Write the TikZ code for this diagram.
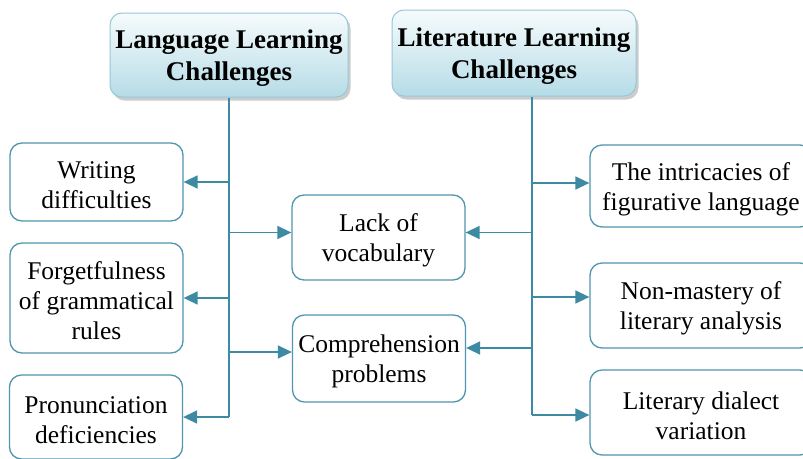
\documentclass[tikz,border=0pt]{standalone}
\usepackage{fontspec}
\setmainfont{Liberation Serif}
\usetikzlibrary{arrows.meta,shadows}
\definecolor{bord}{RGB}{80,150,175}
\definecolor{conn}{RGB}{62,138,162}
\definecolor{htop}{RGB}{246,251,252}
\definecolor{hbot}{RGB}{182,220,231}
\definecolor{hbord}{RGB}{150,200,215}
\newcommand\lifter{\rule{0pt}{24pt}}
\tikzset{
 item/.style={draw=bord, line width=1.3pt, rounded corners=12pt, fill=white, align=center,
   font=\fontsize{25.5}{30}\selectfont, text=black, inner sep=0pt, minimum width=173pt},
 hdr/.style={draw=hbord, line width=1pt, rounded corners=12pt, top color=htop, bottom color=hbot,
   align=center, font=\fontsize{27}{32}\selectfont\bfseries, inner sep=0pt,
   drop shadow={shadow xshift=2.5pt, shadow yshift=-3.5pt, opacity=0.4, fill=gray}},
 conline/.style={draw=conn, line width=1.5pt},
 arr/.style={conline, -{Triangle[length=14pt,width=13pt]}},
}
\begin{document}
\begin{tikzpicture}[x=1pt,y=-1pt]
\clip (0,0) rectangle (803,458);
\fill[white] (0,0) rectangle (803,458);
\node[hdr, minimum width=238pt, minimum height=84pt] (hl) at (229,55) {\lifter Language Learning\\Challenges};
\node[hdr, minimum width=244pt, minimum height=86pt] (hr) at (514,53) {\lifter Literature Learning\\Challenges};
\node[item, minimum height=78pt] (wri) at (96.5,182) {\lifter Writing\\difficulties};
\node[item, minimum height=110pt] (forg) at (96.5,298) {\lifter Forgetfulness\\of grammatical\\rules};
\node[item, minimum height=84pt] (pron) at (96,417) {\lifter Pronunciation\\deficiencies};
\node[item, minimum height=85pt] (lack) at (378.5,237.5) {\lifter Lack of\\vocabulary};
\node[item, minimum height=87pt] (comp) at (379,358.5) {\lifter Comprehension\\problems};
\node[item, minimum width=222pt, minimum height=82pt] (intr) at (701,186) {\lifter The intricacies of\\figurative language};
\node[item, minimum width=222pt, minimum height=85pt] (nonm) at (701,305.5) {\lifter Non-mastery of\\literary analysis};
\node[item, minimum width=222pt, minimum height=85pt] (dial) at (701,412.5) {\lifter Literary dialect\\variation};
% left trunk
\coordinate (lackL) at ([yshift=5pt]lack.west);
\coordinate (compL) at ([yshift=6.5pt]comp.west);
\draw[conline] (hl.south) -- (hl.south |- pron.east);
\draw[arr] (hl.south |- wri.east) -- (wri.east);
\draw[arr] (hl.south |- lackL) -- (lackL);
\draw[arr] (hl.south |- forg.east) -- (forg.east);
\draw[arr] (hl.south |- compL) -- (compL);
\draw[arr] (hl.south |- pron.east) -- (pron.east);
% right trunk
\coordinate (rt) at ([xshift=18pt]hr.south);
\coordinate (intrL) at ([yshift=3pt]intr.west);
\coordinate (nonmL) at ([yshift=8.5pt]nonm.west);
\coordinate (dialL) at ([yshift=-2.5pt]dial.west);
\coordinate (lackR) at ([yshift=5pt]lack.east);
\coordinate (compR) at ([yshift=10.5pt]comp.east);
\draw[conline] (rt) -- (rt |- dialL);
\draw[arr] (rt |- intrL) -- (intrL);
\draw[arr] (rt |- lackR) -- (lackR);
\draw[arr] (rt |- nonmL) -- (nonmL);
\draw[arr] (rt |- compR) -- (compR);
\draw[arr] (rt |- dialL) -- (dialL);
\end{tikzpicture}
\end{document}
